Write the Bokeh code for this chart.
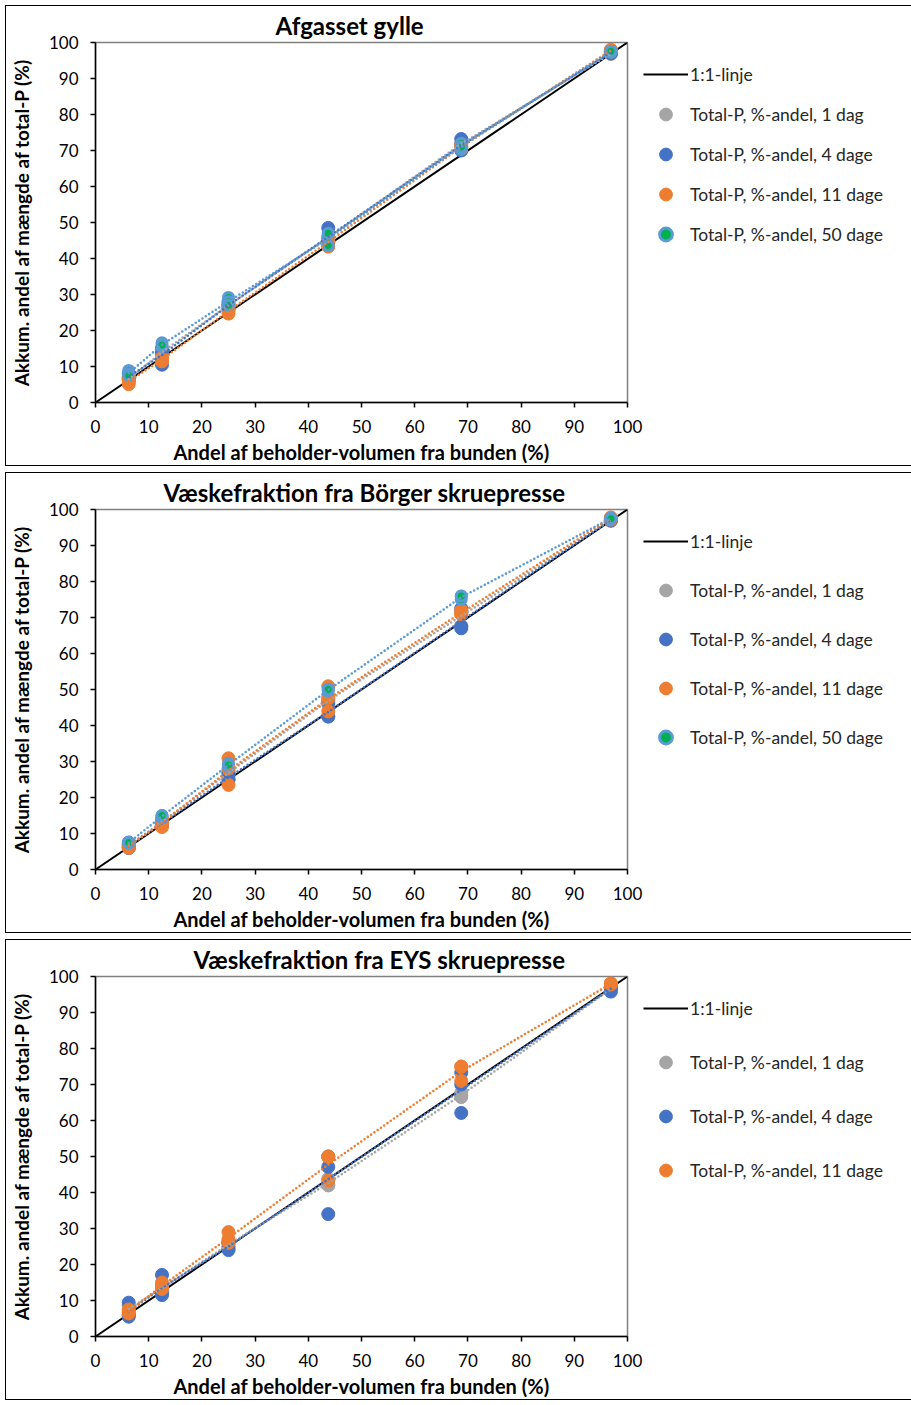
from bokeh.plotting import figure
from bokeh.models import Range1d, Legend, LegendItem, FixedTicker
from bokeh.layouts import column
from bokeh.embed import file_html
from bokeh.resources import INLINE
import numpy as np

# ---------------- data ----------------
X = [6.25, 12.5, 25.0, 43.75, 68.75, 96.875]
TICKS = [0, 10, 20, 30, 40, 50, 60, 70, 80, 90, 100]
DIAG = [0, 100]

LABEL_LINE = "1:1-linje"
LABELS = ["Total-P, %-andel, 1 dag", "Total-P, %-andel, 4 dage",
          "Total-P, %-andel, 11 dage", "Total-P, %-andel, 50 dage"]

TITLES = ["Afgasset gylle", "Væskefraktion fra Börger skruepresse",
          "Væskefraktion fra EYS skruepresse"]
XLABEL = "Andel af beholder-volumen fra bunden (%)"
YLABEL = "Akkum. andel af mængde af total-P (%)"

# Panel 1: Afgasset gylle (replicates per x)
AFG_1 = [[6.5, 14.0, 27.0, 46.0, 72.0, 96.8], [7.0, 13.5, 26.5, 45.5, 71.5, 97.0], [6.0, 14.5, 27.5, 46.0, 72.0, 96.9]]
AFG_4 = [[7.0, 10.5, 28.0, 48.5, 73.2, 97.5], [8.0, 15.0, 26.0, 44.5, 71.0, 97.2], [6.5, 14.0, 27.0, 45.0, 70.0, 97.0]]
AFG_11 = [[5.1, 11.4, 24.7, 43.3, 71.5, 98.0], [6.0, 12.0, 25.5, 45.0, 70.5, 97.8], [6.5, 12.5, 26.0, 45.5, 71.0, 97.5]]
AFG_50 = [[8.9, 16.6, 29.2, 43.6, 70.4, 97.5], [8.0, 15.5, 28.0, 46.0, 72.0, 97.3], [7.5, 16.0, 27.0, 47.0, 71.0, 97.6]]

# Panel 2: Börger
BOR_1 = [[6.5, 13.0, 27.0, 47.8, 67.7, 97.0], [7.0, 13.5, 26.0, 46.0, 71.5, 96.8], [6.8, 13.0, 27.5, 47.0, 72.0, 97.2]]
BOR_4 = [[7.5, 13.5, 26.7, 46.3, 72.5, 97.5], [6.0, 12.5, 25.0, 42.5, 67.5, 97.0], [6.0, 12.5, 25.0, 42.5, 67.0, 97.0]]
BOR_11 = [[6.0, 11.8, 30.9, 50.9, 70.9, 97.5], [6.5, 13.0, 23.5, 43.9, 71.0, 97.2], [7.0, 14.0, 28.0, 47.5, 72.0, 97.8]]
BOR_50 = [[7.3, 14.3, 28.6, 50.1, 75.9, 97.5], [7.5, 15.0, 29.5, 49.5, 75.0, 97.7], [7.5, 15.0, 29.0, 50.0, 76.0, 97.4]]

# Panel 3: EYS
EYS_1 = [[6.0, 12.4, 25.0, 43.8, 67.7, 97.0], [8.5, 14.0, 25.5, 42.0, 67.0, 96.5], [8.5, 14.0, 26.0, 42.0, 66.5, 96.2]]
EYS_4 = [[9.4, 17.1, 26.5, 47.1, 73.3, 95.8], [6.0, 12.0, 24.0, 34.0, 62.1, 97.0], [5.5, 11.5, 24.5, 50.0, 70.0, 97.0]]
EYS_11 = [[6.4, 14.0, 29.0, 49.9, 74.9, 98.1], [7.0, 13.2, 26.0, 43.3, 71.0, 97.8], [7.5, 15.0, 27.0, 50.0, 75.0, 98.0]]

# ---------------- styles ----------------
FONT = "Lato"
GRAY, BLUE, ORANGE, GREEN, LBLUE = "#A5A5A5", "#4472C4", "#ED7D31", "#00B050", "#5B9BD5"
STYLES = [
    dict(fill=GRAY, line=GRAY, lw=1, size=13, dot=GRAY),
    dict(fill=BLUE, line=BLUE, lw=1, size=13, dot=BLUE),
    dict(fill=ORANGE, line=ORANGE, lw=1, size=13, dot=ORANGE),
    dict(fill=GREEN, line=LBLUE, lw=3, size=10, dot=LBLUE),
]


def make_panel(title, series, spacing, legend_pad, title_offset):
    p = figure(frame_width=530, frame_height=358, output_backend="svg", toolbar_location=None,
               x_range=Range1d(0, 100), y_range=Range1d(0, 100),
               min_border_left=87, min_border_right=276,
               min_border_top=36, min_border_bottom=65,
               title=title)
    p.styles = {"border": "1px solid #000"}
    p.title.text_font = FONT
    p.title.text_font_size = "24px"
    p.title.text_font_style = "bold"
    p.title.align = "left"
    p.title.offset = title_offset
    p.title.text_color = "#000000"
    p.title.standoff = 5
    p.grid.visible = False
    p.outline_line_color = "#808080"
    p.outline_line_width = 1.5

    for ax in (p.xaxis[0], p.yaxis[0]):
        ax.ticker = FixedTicker(ticks=TICKS)
        ax.major_label_text_font = FONT
        ax.major_label_text_font_size = "17px"
        ax.major_label_text_color = "#000000"
        ax.axis_label_text_font = FONT
        ax.axis_label_text_font_style = "bold"
        ax.axis_label_text_color = "#000000"
        ax.major_tick_in = 0
        ax.major_tick_out = 5
        ax.minor_tick_line_color = None
        ax.axis_line_color = "#000000"
        ax.axis_line_width = 1.5
        ax.major_tick_line_color = "#000000"
        ax.major_tick_line_width = 1.5
    p.xaxis.axis_label = XLABEL
    p.yaxis.axis_label = YLABEL
    p.xaxis.axis_label_text_font_size = "20px"
    p.yaxis.axis_label_text_font_size = "19px"
    p.xaxis.major_label_standoff = 12
    p.yaxis.major_label_standoff = 12
    p.xaxis.axis_label_standoff = 4
    p.yaxis.axis_label_standoff = 13

    r_diag = p.line(DIAG, DIAG, line_color="#000000", line_width=2)
    items = [LegendItem(label=LABEL_LINE, renderers=[r_diag])]

    for i, reps in enumerate(series):
        st = STYLES[i]
        xs = [x for rep in reps for x in X]
        ys = [y for rep in reps for y in rep]
        r = p.scatter(xs, ys, size=st["size"], fill_color=st["fill"],
                      line_color=st["line"], line_width=st["lw"])
        items.append(LegendItem(label=LABELS[i], renderers=[r]))
    for i, reps in enumerate(series):
        st = STYLES[i]
        mean = np.mean(np.array(reps), axis=0)
        p.line(X, mean, line_color=st["dot"], line_width=2.6,
               line_dash="0 4", line_cap="round")

    legend = Legend(items=items, location="top_left", orientation="vertical",
                    glyph_width=45, glyph_height=32, label_height=32,
                    spacing=spacing, padding=legend_pad, margin=16,
                    border_line_color=None, background_fill_alpha=0,
                    label_text_font=FONT, label_text_font_size="17.5px",
                    label_text_color="#262626", label_standoff=2)
    p.add_layout(legend, "right")
    return p


p1 = make_panel(TITLES[0], [AFG_1, AFG_4, AFG_11, AFG_50], 8, 1, 180)
p2 = make_panel(TITLES[1], [BOR_1, BOR_4, BOR_11, BOR_50], 17, 4, 68)
p3 = make_panel(TITLES[2], [EYS_1, EYS_4, EYS_11], 22, 4, 98)

layout = column(p1, p2, p3, spacing=6, margin=(5, 0, 0, 5))
open("out.html", "w").write(file_html(layout, INLINE))
